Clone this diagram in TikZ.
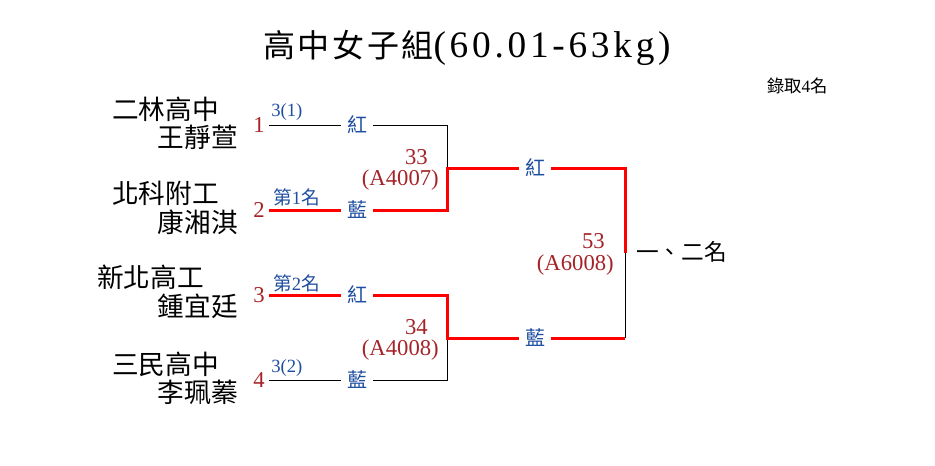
\documentclass[tikz,border=0pt]{standalone}
\usepackage{fontspec}
\setmainfont{Liberation Serif}
\newfontfamily\cjk{Noto Sans CJK TC}
\newfontfamily\cjkwide[LetterSpace=8]{Noto Sans CJK TC}
\newfontfamily\serifwide[LetterSpace=10]{Liberation Serif}
\usepackage{xcolor}
\usetikzlibrary{positioning}
\definecolor{tagblue}{RGB}{31,78,160}
\definecolor{seedred}{RGB}{165,35,40}
\newcommand{\zh}[1]{{\cjk #1}}
\tikzset{
  team/.style = {font=\cjk\fontsize{20}{24}\selectfont, inner sep=0pt},
  seed/.style = {font=\fontsize{17}{20}\selectfont, text=seedred, inner xsep=3pt, inner ysep=0pt},
  corner/.style = {font=\fontsize{14}{16}\selectfont, text=tagblue, inner sep=0pt},
  side/.style = {font=\cjk\fontsize{15}{18}\selectfont, text=tagblue, inner xsep=4.5pt, inner ysep=0pt},
  bout/.style = {font=\fontsize{17}{20}\selectfont, text=seedred, inner sep=0pt},
  thinline/.style = {black, line width=0.75pt},
  winline/.style = {red, line width=2.25pt},
}

\begin{document}
\begin{tikzpicture}[x=0.75pt, y=-0.75pt]
  \useasboundingbox (0,0) rectangle (935,465);

  % Title
  \node[font=\cjkwide\fontsize{24}{28}\selectfont, inner sep=0pt] (title) at (467,48)
    {高中女子組{\serifwide\fontsize{28}{30}\selectfont(60.01-63kg)}};
  \node[font=\fontsize{13}{16}\selectfont, inner sep=0pt, anchor=east] (quota) at (828,86)
    {\zh{錄取}4\zh{名}};

  % Teams
  \node[team, anchor=west] (sch1) at (112,109) {二林高中};
  \node[team, anchor=east] (ply1) at (238,137) {王靜萱};
  \node[team, anchor=west] (sch2) at (112,193) {北科附工};
  \node[team, anchor=east] (ply2) at (238,222) {康湘淇};
  \node[team, anchor=west] (sch3) at (97,277)  {新北高工};
  \node[team, anchor=east] (ply3) at (238,306) {鍾宜廷};
  \node[team, anchor=west] (sch4) at (112,364) {三民高中};
  \node[team, anchor=east] (ply4) at (238,392) {李珮蓁};

  % Seed numbers
  \node[seed, anchor=east] (n1) at (269,125) {1};
  \node[seed, anchor=east] (n2) at (269,210) {2};
  \node[seed, anchor=east] (n3) at (269,295) {3};
  \node[seed, anchor=east] (n4) at (269,380) {4};

  % Results above the lines
  \node[corner, anchor=west] (c1) at (271,112) {3(1)};
  \node[corner, anchor=west] (c2) at (273,197) {\zh{第}1\zh{名}};
  \node[corner, anchor=west] (c3) at (273,283) {\zh{第}2\zh{名}};
  \node[corner, anchor=west] (c4) at (271,368) {3(2)};

  % Corner labels
  \node[side] (k1) at (357,125) {紅};
  \node[side] (k2) at (357,210) {藍};
  \node[side] (k3) at (357,295) {紅};
  \node[side] (k4) at (357,380) {藍};
  \node[side] (k5) at (535,168) {紅};
  \node[side] (k6) at (535,338) {藍};

  % Bout numbers
  \node[bout, anchor=east] (b33)   at (428,157) {33};
  \node[bout, anchor=east] (a4007) at (439,180) {(A4007)};
  \node[bout, anchor=east] (b34)   at (428,327) {34};
  \node[bout, anchor=east] (a4008) at (439,350) {(A4008)};
  \node[bout, anchor=east] (b53)   at (605,241) {53};
  \node[bout, anchor=east] (a6008) at (614,265) {(A6008)};

  % Joints
  \coordinate (j1) at (447,125);
  \coordinate (j2) at (447,210);
  \coordinate (m1) at (447,168);
  \coordinate (j3) at (447,295);
  \coordinate (j4) at (447,380);
  \coordinate (m2) at (447,338);
  \coordinate (f1) at (625,168);
  \coordinate (f2) at (625,338);
  \coordinate (fm) at (625,253);

  \node[font=\cjk\fontsize{17}{20}\selectfont, inner sep=0pt, anchor=west] (rank) at (636,252) {一、二名};

  % Losing lines
  \draw[thinline] (n1) -- (k1) -- (j1) -- (m1);
  \draw[thinline] (n4) -- (k4) -- (j4) -- (m2);
  \draw[thinline] (fm) -- (f2);

  % Winning lines
  \draw[winline] (n2) -- (k2) -- (j2) -- (m1) -- (k5);
  \draw[winline] (n3) -- (k3) -- (j3) -- (m2) -- (k6);
  \draw[winline] (k5) -- (f1) -- (fm);
  \draw[winline] (k6) -- (f2);

\end{tikzpicture}
\end{document}
